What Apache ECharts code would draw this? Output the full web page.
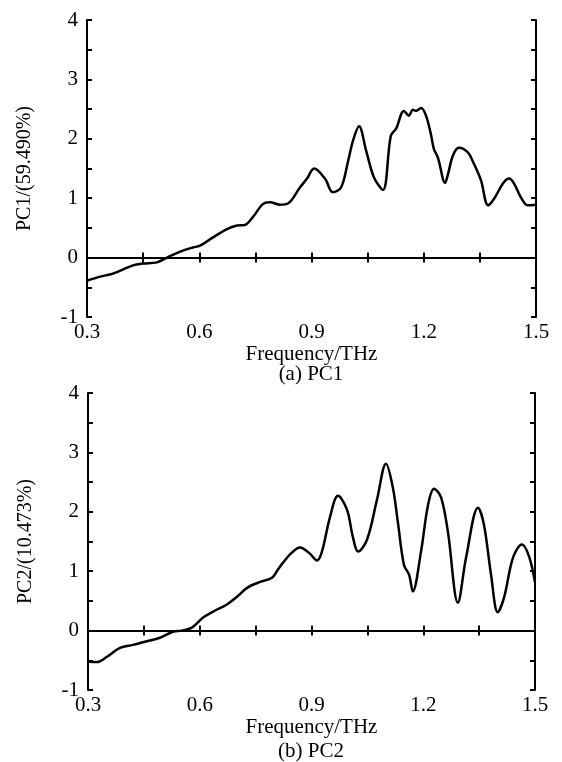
<!DOCTYPE html>
<html>
<head>
<meta charset="utf-8">
<script src="https://cdn.jsdelivr.net/npm/echarts@6/dist/echarts.min.js"></script>
<style>
  html, body { margin: 0; padding: 0; background: #fff; }
  #chart { width: 562px; height: 762px; }
</style>
</head>
<body>
<div id="chart"></div>
<script>
// PC1 loading curve
var pc1Freq = [0.300, 0.335, 0.369, 0.423, 0.450, 0.487, 0.514, 0.549, 0.583, 0.602, 0.637, 0.674, 0.701, 0.722, 0.743, 0.770, 0.789, 0.816, 0.837, 0.869, 0.888, 0.907, 0.936, 0.957, 0.979, 0.998, 1.011, 1.027, 1.046, 1.067, 1.091, 1.112, 1.126, 1.147, 1.160, 1.171, 1.179, 1.193, 1.206, 1.219, 1.227, 1.238, 1.257, 1.265, 1.278, 1.294, 1.318, 1.334, 1.353, 1.372, 1.388, 1.412, 1.428, 1.441, 1.460, 1.478, 1.500];
var pc1Val = [-0.39, -0.32, -0.27, -0.13, -0.10, -0.08, 0.00, 0.10, 0.17, 0.20, 0.34, 0.48, 0.54, 0.55, 0.68, 0.90, 0.93, 0.89, 0.91, 1.18, 1.33, 1.50, 1.33, 1.10, 1.18, 1.63, 1.97, 2.21, 1.80, 1.35, 1.14, 2.05, 2.17, 2.47, 2.39, 2.49, 2.47, 2.52, 2.39, 2.08, 1.83, 1.68, 1.26, 1.41, 1.72, 1.85, 1.77, 1.58, 1.30, 0.88, 0.99, 1.25, 1.33, 1.25, 1.01, 0.88, 0.89];

// PC2 loading curve
var pc2Freq = [0.300, 0.324, 0.351, 0.386, 0.421, 0.458, 0.493, 0.528, 0.552, 0.579, 0.609, 0.636, 0.673, 0.700, 0.727, 0.762, 0.794, 0.810, 0.823, 0.845, 0.869, 0.895, 0.915, 0.928, 0.950, 0.971, 0.995, 1.011, 1.025, 1.049, 1.076, 1.100, 1.118, 1.132, 1.148, 1.162, 1.172, 1.194, 1.213, 1.229, 1.248, 1.266, 1.293, 1.315, 1.347, 1.363, 1.382, 1.400, 1.417, 1.441, 1.465, 1.484, 1.500];
var pc2Val = [-0.52, -0.53, -0.44, -0.29, -0.24, -0.18, -0.12, -0.02, 0.00, 0.05, 0.22, 0.32, 0.44, 0.57, 0.72, 0.82, 0.89, 1.03, 1.14, 1.30, 1.40, 1.30, 1.18, 1.33, 1.92, 2.27, 2.04, 1.58, 1.33, 1.53, 2.21, 2.81, 2.42, 1.82, 1.11, 0.94, 0.66, 1.33, 2.12, 2.39, 2.24, 1.67, 0.47, 1.23, 2.07, 1.78, 0.94, 0.31, 0.56, 1.23, 1.45, 1.25, 0.81];

var yNames = ["PC1/(59.490%)", "PC2/(10.473%)"];
var subTitles = ["(a) PC1", "(b) PC2"];
var xName = "Frequency/THz";

var font = "'Liberation Serif', 'DejaVu Serif', serif";
var black = "#000";

function zip(xs, ys) {
  return xs.map(function (x, i) { return [x, ys[i]]; });
}

var lineStyle = { color: black, width: 2 };
var tickStyle = { show: true, inside: true, length: 5, lineStyle: { color: black, width: 2 } };

function xAxes(gridIndex) {
  return [
    {
      type: "value", gridIndex: gridIndex, position: "bottom",
      min: 0.3, max: 1.5, interval: 0.15,
      name: xName, nameLocation: "middle", nameGap: 26,
      nameTextStyle: { color: black, fontFamily: font, fontSize: 21 },
      axisLine: { show: true, lineStyle: lineStyle },
      axisTick: tickStyle,
      splitLine: { show: false },
      axisLabel: {
        color: black, fontFamily: font, fontSize: 21, margin: 5,
        formatter: function (v) {
          return Math.round(v * 100) % 30 === 0 ? v.toFixed(1) : "";
        }
      }
    },
    {
      type: "value", gridIndex: gridIndex, position: "top",
      min: 0.3, max: 1.5, interval: 0.15,
      axisLine: { show: true, lineStyle: lineStyle },
      axisTick: tickStyle,
      axisLabel: { show: false },
      splitLine: { show: false }
    }
  ];
}

function yAxes(gridIndex) {
  return [
    {
      type: "value", gridIndex: gridIndex, position: "left",
      min: -1, max: 4, interval: 0.5,
      name: yNames[gridIndex], nameLocation: "middle", nameGap: 52,
      nameTextStyle: { color: black, fontFamily: font, fontSize: 20 },
      axisLine: { show: true, lineStyle: lineStyle },
      axisTick: tickStyle,
      splitLine: { show: false },
      axisLabel: {
        color: black, fontFamily: font, fontSize: 21, margin: 9,
        formatter: function (v) {
          return Number.isInteger(v) ? String(v) : "";
        }
      }
    },
    {
      type: "value", gridIndex: gridIndex, position: "right",
      min: -1, max: 4, interval: 0.5,
      axisLine: { show: true, lineStyle: lineStyle },
      axisTick: tickStyle,
      axisLabel: { show: false },
      splitLine: { show: false }
    }
  ];
}

function curve(idx, data) {
  return {
    type: "line",
    xAxisIndex: idx * 2,
    yAxisIndex: idx * 2,
    data: data,
    smooth: 0.35,
    showSymbol: false,
    lineStyle: { color: black, width: 2.5 },
    markLine: {
      silent: true,
      symbol: "none",
      label: { show: false },
      lineStyle: { color: black, width: 2, type: "solid" },
      data: [{ yAxis: 0 }]
    }
  };
}

var chart = echarts.init(document.getElementById("chart"));
chart.setOption({
  animation: false,
  backgroundColor: "#fff",
  grid: [
    { left: 87, right: 26, top: 20, height: 297 },
    { left: 88, right: 27, top: 393, height: 297 }
  ],
  xAxis: xAxes(0).concat(xAxes(1)),
  yAxis: yAxes(0).concat(yAxes(1)),
  series: [
    curve(0, zip(pc1Freq, pc1Val)),
    curve(1, zip(pc2Freq, pc2Val))
  ],
  graphic: [
    {
      type: "text", x: 311, y: 374,
      style: { text: subTitles[0], fill: black, font: "21px " + font, textAlign: "center", textVerticalAlign: "middle" }
    },
    {
      type: "text", x: 311, y: 751,
      style: { text: subTitles[1], fill: black, font: "21px " + font, textAlign: "center", textVerticalAlign: "middle" }
    }
  ]
});
</script>
</body>
</html>
